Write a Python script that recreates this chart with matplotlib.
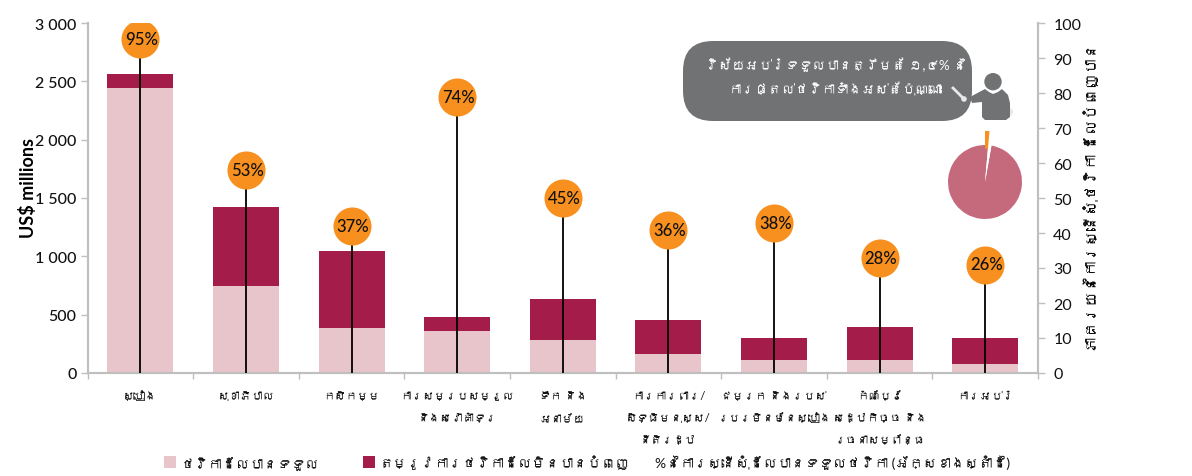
import matplotlib
matplotlib.use('Agg')
import matplotlib.pyplot as plt
from matplotlib import font_manager
from matplotlib.lines import Line2D
from matplotlib.patches import Rectangle, FancyBboxPatch, Circle, Polygon, Wedge
from matplotlib.transforms import Affine2D
from matplotlib.ft2font import FT2Font

categories = ['ស្បៀង', 'សុខាភិបាល', 'កសិកម្ម', 'ការសម្របសម្រួល\nនិងសេវាគាំទ្រ', 'ទឹក និង\nអនាម័យ',
              'ការការពារ/\nសិទ្ធិមនុស្ស/\nនីតិរដ្ឋ', 'ជម្រក និងរបស់\nរបរមិនមែនស្បៀង',
              'កំណែប្រែ\nសេដ្ឋកិច្ច និង\nរចនាសម្ព័ន្ធ', 'ការអប់រំ']
received = [2440, 750, 387, 358, 284, 163, 112, 112, 77]
unmet = [120, 676, 661, 126, 349, 292, 188, 286, 223]
pct_met = [95, 53, 37, 74, 45, 36, 38, 28, 26]
pie_shares = [98.6, 1.4]

y_ticks = [0, 500, 1000, 1500, 2000, 2500, 3000]
y_ticklabels = ['0', '500', '1 000', '1 500', '2 000', '2 500', '3 000']
pct_ticks = list(range(0, 101, 10))

legend_labels = ['ថវិកាដែលបានទទួល', 'តម្រូវការថវិកាដែលមិនបានបំពេញ', '%នៃការស្នើសុំដែលបានទទួលថវិកា (អ័ក្សខាងស្តាំដៃ)']
callout_text = 'វិស័យអប់រំទទួលបានត្រឹមតែ ១,៤% នៃ\nការផ្តល់ថវិកាទាំងអស់តែប៉ុណ្ណោះ'
left_label = 'US$ millions'
right_label = 'ភាគរយនៃការស្នើសុំថវិកា ដែលបំពេញបាន'

LIGHT = '#E8C5CB'
DARK = '#A31C4A'
ORANGE = '#F7901E'
GREY = '#717274'
PALE = '#E8E8E8'
AXIS = '#BFBFBF'
INK = '#111111'
W, H = 1192, 477


def find_khmer_fonts():
    # any installed face that really has Khmer glyphs goes first in the list
    found = []
    for f in font_manager.fontManager.ttflist:
        try:
            if 0x1780 in FT2Font(f.fname).get_charmap() and f.name not in found:
                found.append(f.name)
        except Exception:
            pass
    return found


plt.rcParams['font.family'] = ['Lato'] + find_khmer_fonts() + ['DejaVu Sans']

fig = plt.figure(figsize=(W / 100, H / 100), dpi=100)
ax = fig.add_axes([87.5 / W, 1 - 374 / H, (1038 - 87.5) / W, 350 / H])
ax2 = ax.twinx()

x = list(range(len(categories)))
ax.bar(x, received, width=0.625, color=LIGHT, zorder=2)
ax.bar(x, unmet, width=0.625, bottom=received, color=DARK, zorder=2)
ax.set_xlim(-0.5, len(categories) - 0.5)
ax.set_ylim(0, 3000)
ax.set_yticks(y_ticks)
ax.set_yticklabels(y_ticklabels, fontsize=11.5, color=INK, fontweight='medium')
ax.set_ylabel(left_label, fontsize=13, fontweight='bold')
ax.yaxis.set_label_coords((37 - 87.5) / 950.5, (374 - 188) / 350)
ax.set_xticks(x)
ax.set_xticklabels(categories, fontsize=8.2, linespacing=2.25, color=INK, va='top')
ax.set_xticks([i - 0.5 for i in range(len(categories) + 1)], minor=True)
ax.tick_params(axis='x', which='major', length=0, pad=12)
ax.tick_params(axis='x', which='minor', direction='out', length=4, color=AXIS, width=1)
ax.tick_params(axis='y', direction='out', length=5, color=AXIS, width=1, pad=3)

ax2.set_ylim(0, 100)
ax2.set_yticks(pct_ticks)
ax2.tick_params(axis='y', direction='out', length=5, color=AXIS, width=1, pad=6, labelsize=11.5, labelcolor=INK)
ax2.set_ylabel(right_label, fontsize=11, rotation=90)
ax2.yaxis.set_label_coords((1084 - 87.5) / 950.5, (374 - 198) / 350)
ax2.set_zorder(ax.get_zorder() + 1)

for a in (ax, ax2):
    a.spines['top'].set_visible(False)
    for s in ('left', 'right', 'bottom'):
        a.spines[s].set_color(AXIS)
        a.spines[s].set_linewidth(1.5)

# lollipops: stem up to the value, badge sits on top of the stem
for i, p in enumerate(pct_met):
    ax2.plot([i, i], [0, p], color='black', lw=1.3, zorder=3, solid_capstyle='butt')
    ax2.plot([i], [min(p + 5, 95.5)], 'o', ms=27.4, color=ORANGE, mew=0, zorder=4)
    ax2.annotate('%d%%' % p, (i, min(p + 5, 95.5)), xytext=(1, 0), textcoords='offset points', ha='center',
                 va='center', fontsize=12, fontweight='medium', color=INK, zorder=5)

# the rest is decoration placed in image pixels
px = Affine2D().scale(1, -1).translate(0, H)
def add(patch):
    patch.set_transform(px)
    fig.add_artist(patch)

add(FancyBboxPatch((713, 72), 229, 20, boxstyle='round,pad=30,rounding_size=30', fc=GREY, ec='none'))
fig.text(836 / W, 1 - 77 / H, callout_text, color='white', fontsize=9.6, ha='center', va='center', linespacing=1.8)

add(Circle((1009, 113), 4, fc=PALE, ec='none'))
add(Circle((993, 82.7), 8.7, fc=GREY, ec='none'))
add(Polygon([(970, 98), (985, 90), (989, 93), (993, 95), (998, 93), (1002, 90), (1008, 96), (1010, 104),
             (1010, 118), (1006, 121), (985, 121), (982, 118), (982, 103), (972, 104)],
            closed=True, fc=GREY, ec='none'))
fig.add_artist(Line2D([953, 963], [89, 99], color=PALE, lw=2, transform=px))
add(Circle((964, 100), 2.8, fc=PALE, ec='none'))

# pie for the education share
pie_ax = fig.add_axes([(985 - 37) / W, 1 - (183 + 37) / H, 74 / W, 74 / H])
pie_ax.pie(pie_shares, colors=['#C56A7C', 'white'], startangle=90 - 360 * pie_shares[1] / 100,
           counterclock=True, radius=1, wedgeprops={'linewidth': 0})
pie_ax.set_xlim(-1, 1)
pie_ax.set_ylim(-1, 1)
sliver = 360 * pie_shares[1] / 100
pie_ax.add_patch(Wedge((0, 0), 1.38, 90 - sliver, 90, width=0.48, fc=ORANGE, ec='none', clip_on=False))

# legend row, each entry at its spot in the picture
add(Rectangle((164, 457), 12, 12, fc=LIGHT, ec='none'))
add(Rectangle((363, 457), 12, 12, fc=DARK, ec='none'))
for lx, label in zip([181, 380, 655], legend_labels):
    fig.text(lx / W, 1 - 463 / H, label, fontsize=10, color=INK, ha='left', va='center')

fig.savefig('out.png', dpi=100)
